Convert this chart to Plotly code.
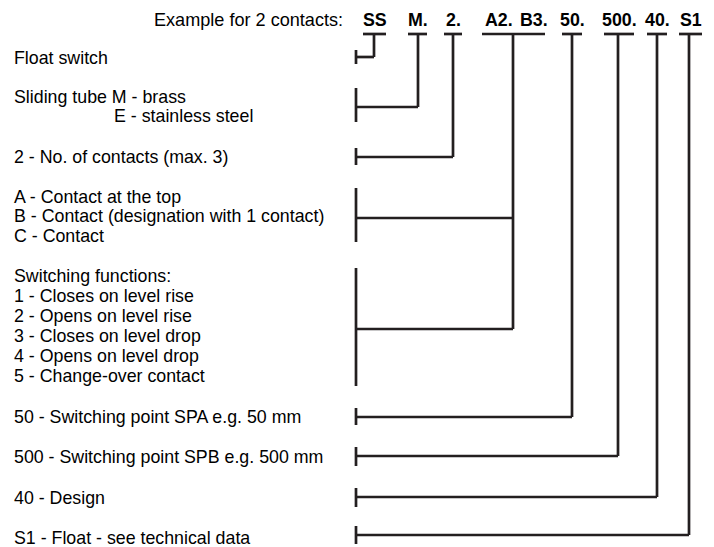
import plotly.graph_objects as go

# ---- content ----
header_text = "Example for 2 contacts:"
codes = ["SS", "M.", "2.", "A2.", "B3.", "50.", "500.", "40.", "S1"]
labels = [
    "Float switch",
    "Sliding tube M - brass",
    "E - stainless steel",
    "2 - No. of contacts (max. 3)",
    "A - Contact at the top",
    "B - Contact (designation with 1 contact)",
    "C - Contact",
    "Switching functions:",
    "1 - Closes on level rise",
    "2 - Opens on level rise",
    "3 - Closes on level drop",
    "4 - Opens on level drop",
    "5 - Change-over contact",
    "50 - Switching point SPA e.g. 50 mm",
    "500 - Switching point SPB e.g. 500 mm",
    "40 - Design",
    "S1 - Float - see technical data",
]

# ---- layout positions (pixel space of the 714x547 canvas) ----
code_x = [374.5, 417.5, 453, 499, 534, 572, 619, 657, 690.5]
label_x = [12, 12, 112, 12, 12, 12, 12, 12, 12, 12, 12, 12, 12, 12, 12, 12, 12]
label_y = [58, 97, 116, 157, 197, 216, 236, 276, 296, 316, 336, 356, 376, 417, 457, 498, 538]

bar_y = 34
# underbars: (x0, x1)
underbars = [(363, 386), (408, 427), (444, 462), (482, 545), (562, 582),
             (604, 634), (647, 667), (679, 702)]
# connector: vertical x, list of horizontal y levels
left_x = 356
connectors = [(374, [57]), (418, [107]), (453, [157]), (513, [218, 329]),
              (572, [417]), (618, [456]), (657, [497]), (689, [535])]
# left ticks/bars (y0, y1)
left_bars = [(50, 64), (88, 122), (148, 165), (188, 242), (268, 386),
             (408, 425), (447, 466), (488, 507), (526, 544)]

LINE = "#231f20"
FONT = "Liberation Sans, Arial, sans-serif"
FS = 17.8
FS_HEAD = 18.1

xs, ys = [], []
for x0, x1 in underbars:
    xs += [x0, x1, None]
    ys += [bar_y, bar_y, None]
for vx, levels in connectors:
    xs += [vx, vx, None]
    ys += [bar_y, max(levels), None]
    for ly in levels:
        xs += [left_x, vx, None]
        ys += [ly, ly, None]
for y0, y1 in left_bars:
    xs += [left_x, left_x, None]
    ys += [y0, y1, None]

fig = go.Figure()
fig.add_trace(go.Scatter(x=xs, y=ys, mode="lines",
                         line=dict(color=LINE, width=2.7),
                         hoverinfo="skip", showlegend=False))

annotations = [dict(x=345, y=20, text=header_text, xanchor="right", yanchor="middle",
                    showarrow=False, font=dict(family=FONT, size=FS_HEAD, color="#000000"))]
for c, cx in zip(codes, code_x):
    annotations.append(dict(x=cx, y=20, text="<b>" + c + "</b>", xanchor="center",
                            yanchor="middle", showarrow=False,
                            font=dict(family=FONT, size=FS, color="#000000")))
for t, lx, ly in zip(labels, label_x, label_y):
    annotations.append(dict(x=lx, y=ly, text=t, xanchor="left", yanchor="middle",
                            showarrow=False,
                            font=dict(family=FONT, size=FS, color="#000000")))

fig.update_layout(
    width=714, height=547,
    margin=dict(l=0, r=0, t=0, b=0),
    paper_bgcolor="white", plot_bgcolor="white",
    xaxis=dict(range=[0, 714], visible=False, fixedrange=True),
    yaxis=dict(range=[547, 0], visible=False, fixedrange=True),
    annotations=annotations,
)
fig.write_html("out.html", config={"displayModeBar": False},
               post_script="document.body.style.margin='0';document.body.style.overflow='hidden';")
